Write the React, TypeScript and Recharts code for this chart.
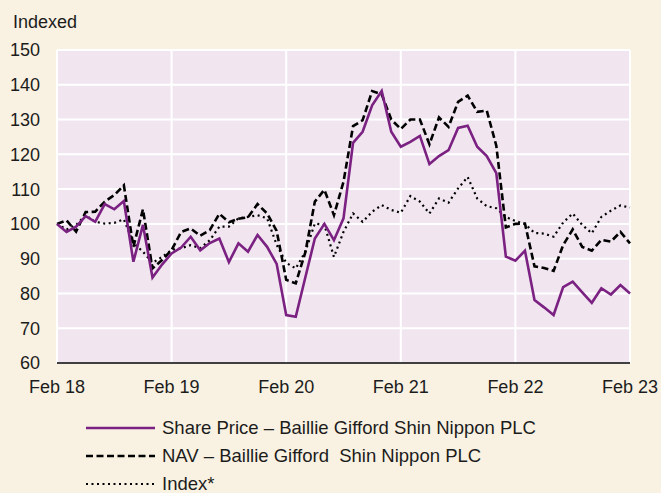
import React from 'react';
import { LineChart, Line, XAxis, YAxis, CartesianGrid, Legend, Label } from 'recharts';

const tickLabels = ['Feb 18', 'Feb 19', 'Feb 20', 'Feb 21', 'Feb 22', 'Feb 23'];
const monthsPerTick = 12;
const yTicks = [60, 70, 80, 90, 100, 110, 120, 130, 140, 150];

const sharePrice = [
  100, 97.7, 99.2, 102.2, 100.6, 105.7, 104.2, 106.6, 89.1, 99.7, 84.6,
  88.3, 91.5, 93.2, 96.3, 92.4, 94.5, 95.8, 89.0, 94.4, 92.0,
  96.8, 93.4, 88.5, 73.8, 73.3, 84.6, 95.8, 100.0, 95.3, 101.6,
  123.3, 126.5, 134.1, 138.2, 126.5, 122.2, 123.6, 125.3, 117.2, 119.5,
  121.2, 127.6, 128.2, 122.2, 119.5, 114.6, 90.6, 89.4, 92.3, 78.1,
  76.0, 73.8, 81.8, 83.4, 80.3, 77.3, 81.5, 79.7, 82.4, 80.0,
];

const nav = [
  100, 101.0, 97.8, 103.4, 103.5, 106.4, 108.3, 111.1, 93.4, 104.2, 87.2,
  89.6, 92.5, 97.7, 98.7, 96.6, 98.2, 102.9, 100.5, 101.5, 101.9,
  105.7, 103.0, 98.0, 83.9, 82.9, 91.8, 106.4, 109.8, 102.5, 112.1,
  128.1, 129.8, 138.2, 137.3, 130.0, 127.3, 130.0, 130.0, 122.9, 130.6,
  127.9, 135.1, 136.9, 132.2, 132.6, 122.5, 99.0, 100.0, 100.1, 87.8,
  87.3, 86.5, 93.9, 98.4, 93.4, 92.3, 95.4, 94.9, 97.7, 94.4,
];

const indexSeries = [
  100, 98.4, 99.7, 102.5, 100.6, 100.1, 100.3, 101.3, 94.5, 92.0, 88.8,
  90.5, 92.5, 93.0, 93.9, 93.0, 95.3, 99.2, 99.2, 101.6, 102.0,
  102.5, 101.6, 94.0, 88.8, 87.2, 92.0, 100.1, 99.7, 90.5, 97.7,
  103.0, 100.6, 103.5, 105.4, 104.0, 103.2, 108.0, 106.4, 103.0, 107.3,
  106.1, 110.2, 113.5, 107.3, 105.1, 104.5, 102.0, 100.8, 100.0, 97.4,
  97.2, 96.3, 100.4, 103.0, 99.7, 97.3, 102.0, 103.8, 105.3, 104.7,
];

const data = sharePrice.map((v, i) => ({ m: i, share: v, nav: nav[i], index: indexSeries[i] }));
const xTicks = tickLabels.map((_, i) => i * monthsPerTick);

const FONT = '"Liberation Sans", Arial, Helvetica, sans-serif';
const PURPLE = '#7b2182';
const TEXT = '#1c1c1c';

const legendItems = [
  { label: 'Share Price – Baillie Gifford Shin Nippon PLC', color: PURPLE, dash: undefined as string | undefined, width: 2.6 },
  { label: 'NAV – Baillie Gifford  Shin Nippon PLC', color: '#000', dash: '7 3.5', width: 2.6 },
  { label: 'Index*', color: '#000', dash: '2 3.5', width: 2.2 },
];

const LegendContent = () => (
  <div style={{ display: 'flex', flexDirection: 'column', fontFamily: FONT }}>
    {legendItems.map((it) => (
      <div key={it.label} style={{ height: 28, display: 'flex', alignItems: 'center' }}>
        <svg width={70} height={10} style={{ display: 'block' }}>
          <line x1={0} x2={69} y1={5} y2={5} stroke={it.color} strokeWidth={it.width} strokeDasharray={it.dash} />
        </svg>
        <span style={{ marginLeft: 6, fontSize: 18.5, color: TEXT, whiteSpace: 'pre', lineHeight: '20px' }}>{it.label}</span>
      </div>
    ))}
  </div>
);

const renderIndexed = () => (
  <text x={13} y={28} fontSize={18} fill={TEXT} fontFamily={FONT}>
    Indexed
  </text>
);

export default function App() {
  return (
    <div style={{ position: 'absolute', left: 0, top: 0, width: 661, height: 493, background: '#f9f2e2', overflow: 'hidden' }}>
      <LineChart width={661} height={493} data={data} margin={{ top: 50, right: 31, left: 0, bottom: 16 }}>
        <CartesianGrid fill="#f1e6f0" stroke="#ffffff" strokeWidth={2} />
        <XAxis
          dataKey="m"
          type="number"
          domain={[0, 60]}
          ticks={xTicks}
          tickFormatter={(v: number) => tickLabels[Math.round(v / monthsPerTick)]}
          axisLine={{ stroke: '#000', strokeWidth: 1.5 }}
          tickLine={false}
          tickSize={0}
          tickMargin={17}
          height={30}
          interval={0}
          tick={{ fontSize: 18, fill: TEXT, fontFamily: FONT }}
        />
        <YAxis
          domain={[60, 150]}
          ticks={yTicks}
          width={57}
          axisLine={false}
          tickLine={false}
          tickSize={0}
          tickMargin={17}
          interval={0}
          tick={{ fontSize: 18, fill: TEXT, fontFamily: FONT }}
        >
          <Label content={renderIndexed} />
        </YAxis>
        <Legend
          verticalAlign="bottom"
          align="left"
          layout="horizontal"
          content={LegendContent}
          wrapperStyle={{ left: 86, top: 414, bottom: 'auto', width: 'auto' }}
        />
        <Line type="linear" dataKey="index" stroke="#000" strokeWidth={2.2} strokeDasharray="2 3.5" dot={false} isAnimationActive={false} />
        <Line type="linear" dataKey="nav" stroke="#000" strokeWidth={2.6} strokeDasharray="7 3.5" dot={false} isAnimationActive={false} />
        <Line type="linear" dataKey="share" stroke={PURPLE} strokeWidth={2.6} dot={false} isAnimationActive={false} />
      </LineChart>
    </div>
  );
}
